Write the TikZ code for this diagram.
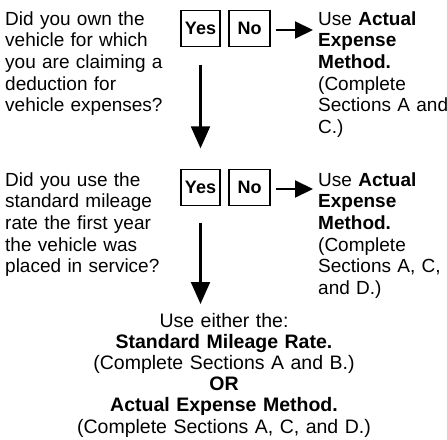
\documentclass[tikz,border=0pt]{standalone}
\usepackage{fontspec}
\setmainfont{Liberation Sans}
\usetikzlibrary{arrows.meta}
\begin{document}
\begin{tikzpicture}[x=1pt,y=1pt,
  txt/.style={inner sep=0pt, align=left, text width=#1, font=\fontsize{19}{21.7}\selectfont},
  ansbox/.style={draw, line width=1.3pt, inner sep=0pt, minimum height=36pt, font=\fontsize{18}{20}\selectfont\bfseries},
  varr/.style={line width=2.1pt, -{Triangle[length=22pt 0 0,width=19pt 0 0]}},
  harr/.style={line width=2.1pt, -{Triangle[length=18pt 0 0,width=17pt 0 0]}}
]
\useasboundingbox[fill=white] (0,0) rectangle (447,-439);

\node[txt=170pt, anchor=base west] (q1) at (5,-25)
  {Did you own the\\vehicle for which\\you are claiming a\\deduction for\\vehicle expenses?};
\node[ansbox, minimum width=39pt] (yes1) at (200.5,-28.5) {Yes};
\node[ansbox, minimum width=41pt] (no1) at (249.5,-28.5) {No};
\node[txt=140pt, anchor=base west] (res1) at (318,-25)
  {Use \textbf{Actual}\\\textbf{Expense}\\\textbf{Method.}\\(Complete\\Sections A and\\C.)};

\node[txt=170pt, anchor=base west] (q2) at (5,-186)
  {Did you use the\\standard mileage\\rate the first year\\the vehicle was\\placed in service?};
\node[ansbox, minimum width=39pt] (yes2) at (200.5,-187.5) {Yes};
\node[ansbox, minimum width=41pt] (no2) at (249.5,-187.5) {No};
\node[txt=140pt, anchor=base west] (res2) at (318,-186)
  {Use \textbf{Actual}\\\textbf{Expense}\\\textbf{Method.}\\(Complete\\Sections A, C,\\and D.)};

\node[inner sep=0pt, align=center, text width=420pt, anchor=base, font=\fontsize{19.5}{21.2}\selectfont] (bot) at (224,-327)
  {Use either the:\\\textbf{Standard Mileage Rate.}\\(Complete Sections A and B.)\\\textbf{OR}\\\textbf{Actual Expense Method.}\\(Complete Sections A, C, and D.)};

\draw[harr, shorten <=5pt, shorten >=5pt] ([yshift=-1.5pt]no1.east) -- ([yshift=-1.5pt]no1.east -| res1.west);
\draw[harr, shorten <=5pt, shorten >=5pt] ([yshift=-1.5pt]no2.east) -- ([yshift=-1.5pt]no2.east -| res2.west);
\draw[varr, shorten <=17.5pt, shorten >=20.5pt] (yes1.south) -- (yes2.north);
\draw[varr, shorten <=16.5pt] (yes2.south) -- (yes2.south |- 0,-304);
\end{tikzpicture}
\end{document}
